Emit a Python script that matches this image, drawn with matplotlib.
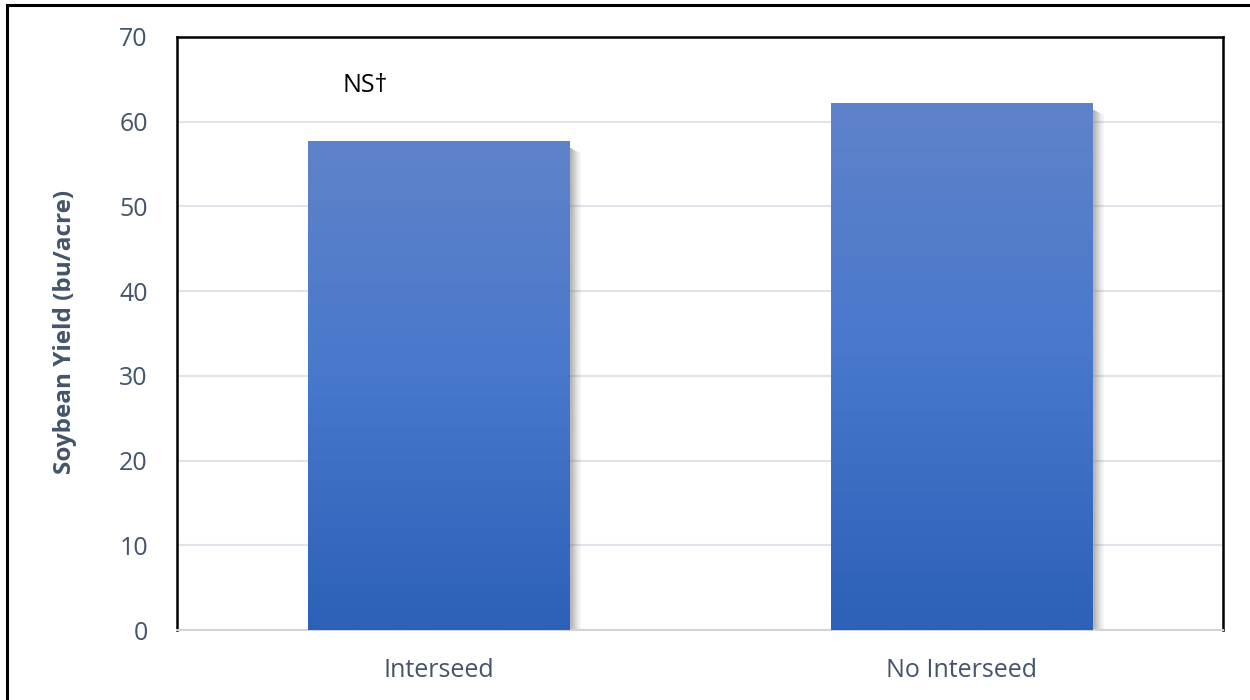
import matplotlib
matplotlib.use("Agg")
import matplotlib.pyplot as plt
import numpy as np
from matplotlib.patches import Rectangle
from matplotlib.lines import Line2D
from matplotlib.colors import LinearSegmentedColormap

categories = ["Interseed", "No Interseed"]
yields = [57.7, 62.2]
annotation = "NS\u2020"
y_ticks = [0, 10, 20, 30, 40, 50, 60, 70]
y_label = "Soybean Yield (bu/acre)"

plt.rcParams['font.family'] = ['Open Sans', 'DejaVu Sans']
W, H = 1250, 700
fig = plt.figure(figsize=(12.5, 7), dpi=100)
ax = fig.add_axes([177 / W, 1 - 630 / H, (1223 - 177) / W, (630 - 37) / H])

tick_color = "#44546a"
ax.set_xlim(-0.5, 1.5)
ax.set_ylim(0, 70)
ax.set_yticks(y_ticks)
ax.set_xticks(range(len(categories)))
ax.set_xticklabels(categories, fontsize=18, color=tick_color)
ax.tick_params(axis='y', labelsize=18, labelcolor=tick_color, length=0, pad=21)
ax.tick_params(axis='x', length=0, pad=20)
ax.set_ylabel(y_label, fontsize=17.5, fontweight='bold', color=tick_color)
ax.yaxis.set_label_coords(-0.096, 0.502)
ax.grid(axis='y', color="#dfe3ea", linewidth=1.5, zorder=0)
ax.set_axisbelow(True)

for s in ['left', 'top', 'right']:
    ax.spines[s].set_color('black')
    ax.spines[s].set_linewidth(1.8)
ax.spines['bottom'].set_color('#d0d4da')
ax.spines['bottom'].set_linewidth(1.5)

cmap = LinearSegmentedColormap.from_list("g", ["#2d60b8", "#4777cc", "#5f83c9"])
grad = np.linspace(0, 1, 256).reshape(-1, 1)
bw = 0.5
for i, v in enumerate(yields):
    x0 = i - bw / 2
    # soft shadow on the right side
    n = 10
    for k in range(n):
        ax.add_patch(Rectangle((x0 + bw + k * 0.0022, -0.3), 0.0022, v - 0.5 - k * 0.06,
                               facecolor='#6f6f6f', alpha=0.55 * (1 - k / n),
                               edgecolor='none', zorder=2))
    rect = Rectangle((x0, 0), bw, v, facecolor='none', edgecolor='none', zorder=3)
    ax.add_patch(rect)
    im = ax.imshow(grad, extent=(x0, x0 + bw, 0, v), origin='lower', cmap=cmap,
                   aspect='auto', zorder=3)
    im.set_clip_path(rect)

ax.set_xlim(-0.5, 1.5)
ax.set_ylim(0, 70)

ax.text(-0.14, 64.3, annotation, fontsize=18, color='black', ha='center', va='center')

# outer frame (partially visible)
fig.add_artist(Line2D([7 / W, 7 / W], [0, 1 - 5 / H], transform=fig.transFigure,
                      color='black', linewidth=2.2))
fig.add_artist(Line2D([7 / W, 1], [1 - 5 / H, 1 - 5 / H], transform=fig.transFigure,
                      color='black', linewidth=2.2))

fig.savefig("out.png", dpi=100)
